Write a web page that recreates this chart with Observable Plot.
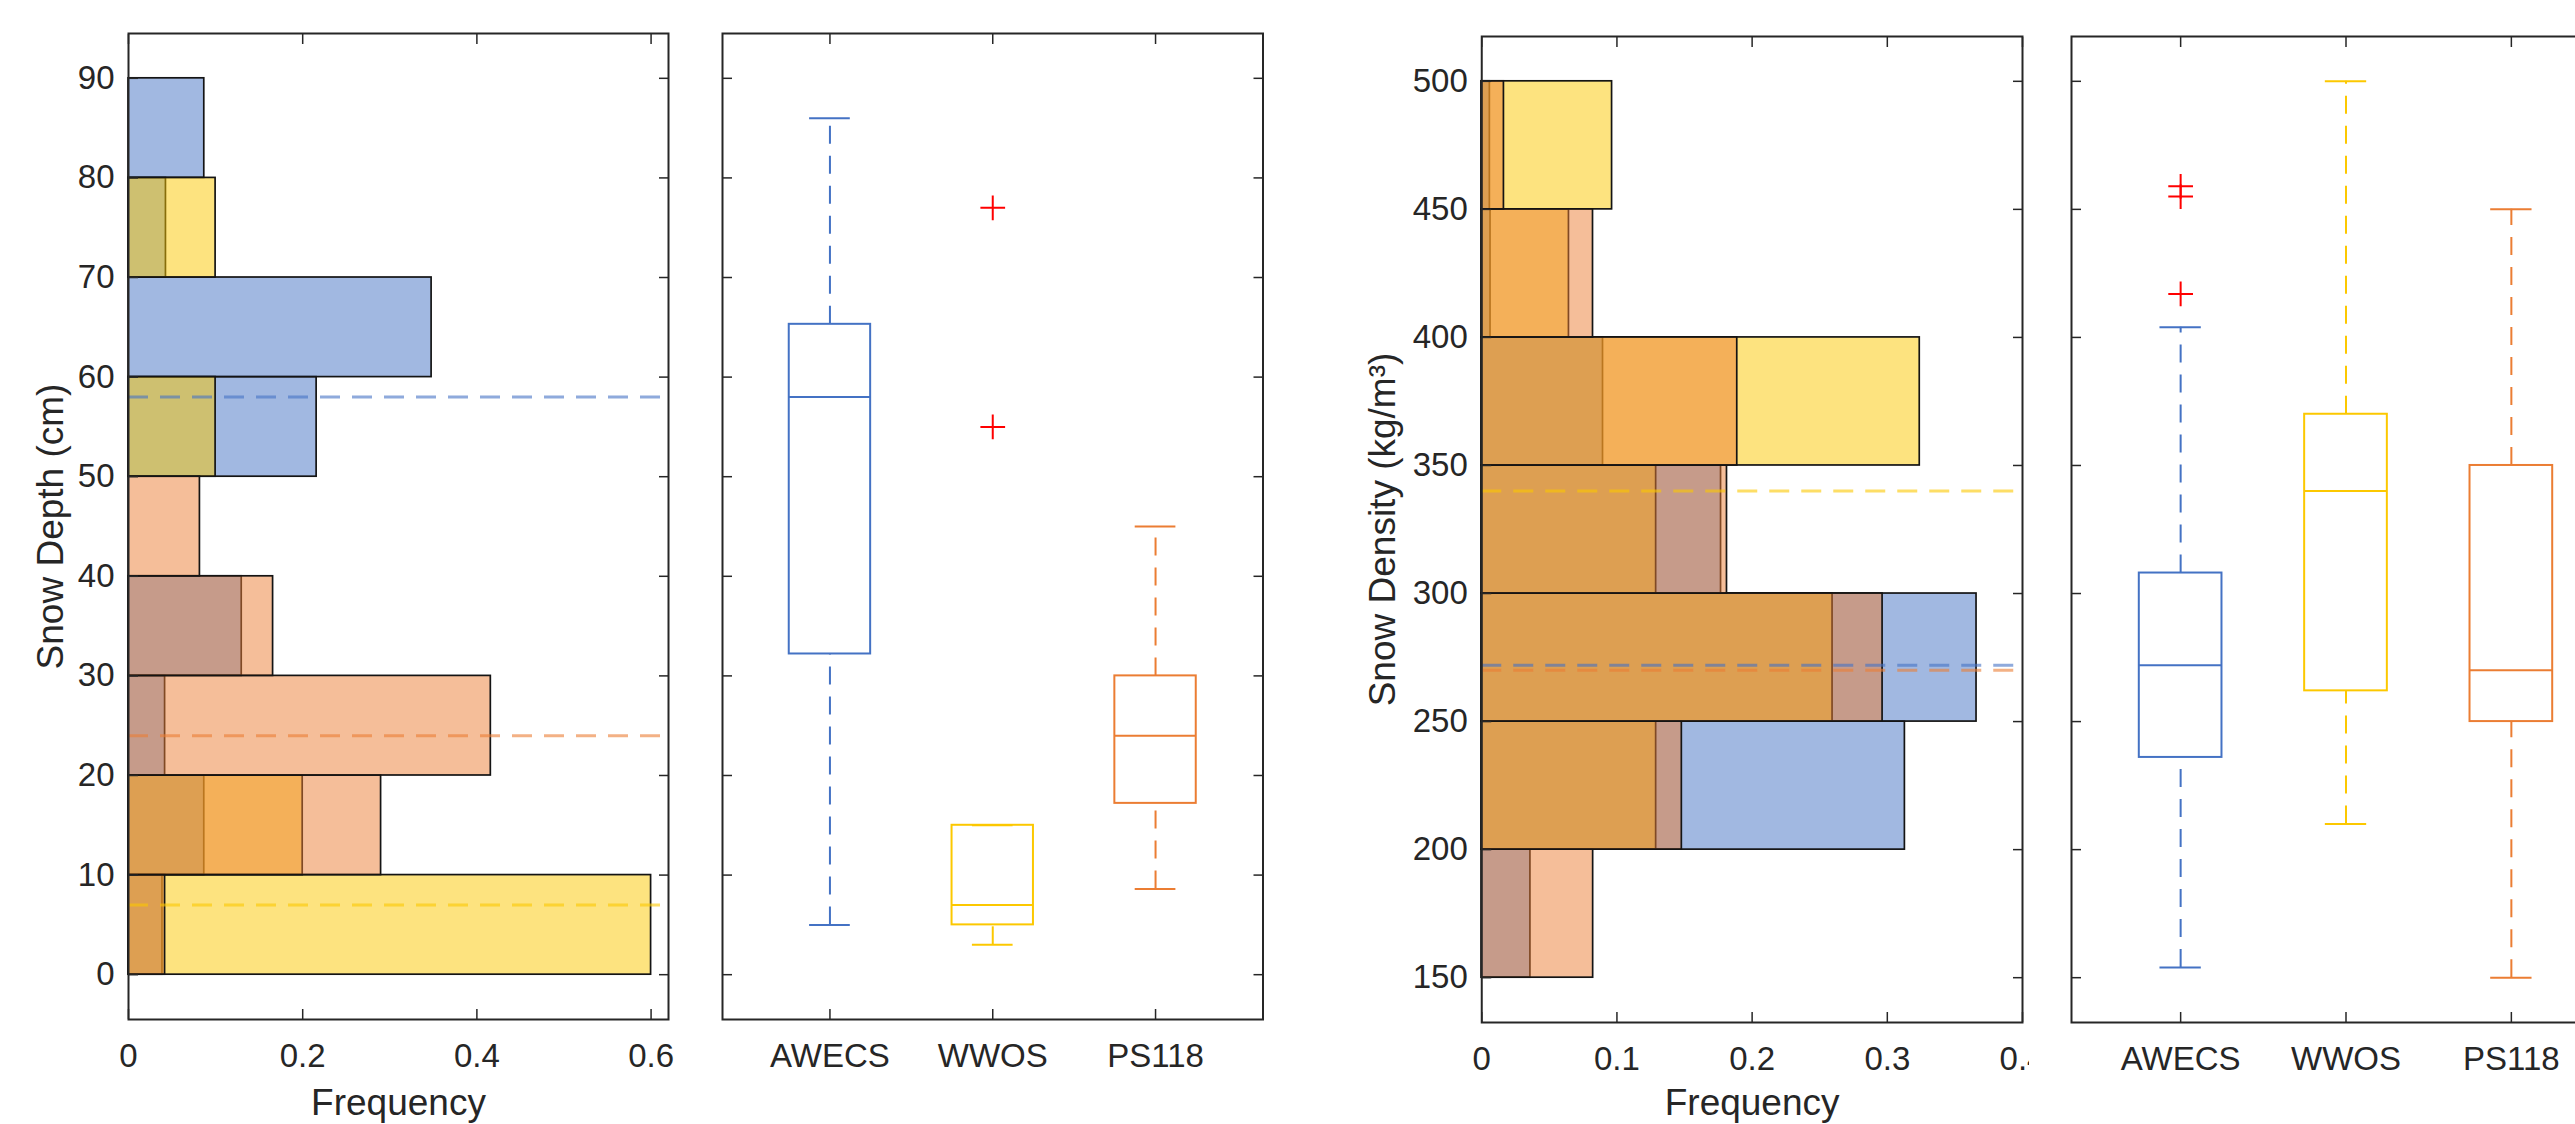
<!DOCTYPE html>
<html>
<head>
<meta charset="utf-8">
<script src="https://cdn.jsdelivr.net/npm/d3@7"></script>
<script src="https://cdn.jsdelivr.net/npm/@observablehq/plot@0.6"></script>
<style>
  html, body { margin: 0; padding: 0; background: #ffffff; overflow: hidden; }
  #fig { position: relative; width: 2575px; height: 1124px; overflow: hidden; background: #ffffff; }
  .panel { position: absolute; top: 0; }
  .panel svg { max-width: none; display: block; }
</style>
</head>
<body>
<div id="fig"></div>
<script>
// ---------------- data ----------------
const series = ["AWECS", "WWOS", "PS118"];
const seriesColors = ["#4472C4", "#FCC800", "#EB7D33"];

// Snow depth histograms (bins of 10 cm), frequency per bin
const depthBinStart = [0, 10, 20, 30, 40, 50, 60, 70, 80];
const depthBinWidth = 10;
const depthFreqAWECS = [0.039, 0.087, 0.042, 0.13, 0, 0.216, 0.348, 0.043, 0.087];
const depthFreqWWOS  = [0.6, 0.2, 0, 0, 0, 0.1, 0, 0.1, 0];
const depthFreqPS118 = [0.042, 0.29, 0.416, 0.166, 0.082, 0, 0, 0, 0];

// Snow density histograms (bins of 50 kg/m3)
const densityBinStart = [150, 200, 250, 300, 350, 400, 450];
const densityBinWidth = 50;
const densityFreqAWECS = [0.036, 0.313, 0.366, 0.177, 0.0897, 0.0065, 0.006];
const densityFreqWWOS  = [0, 0.129, 0.2595, 0.129, 0.324, 0.0645, 0.0964];
const densityFreqPS118 = [0.0824, 0.148, 0.2965, 0.1814, 0.189, 0.0823, 0.0164];

// Box plot statistics (order: AWECS, WWOS, PS118)
const depthLower    = [5, 3, 8.6];
const depthQ1       = [32.2, 5, 17.2];
const depthMedian   = [58, 7, 24];
const depthQ3       = [65.3, 15, 30];
const depthUpper    = [86, 15, 45];
const depthOutliers = [[], [55, 77], []];

const densityLower    = [154, 210, 150];
const densityQ1       = [236, 262, 250];
const densityMedian   = [272, 340, 270];
const densityQ3       = [308, 370, 350];
const densityUpper    = [404, 500, 450];
const densityOutliers = [[417, 455, 459], [], []];

// Ticks and labels
const depthTicks = [0, 10, 20, 30, 40, 50, 60, 70, 80, 90];
const depthFreqTicks = [0, 0.2, 0.4, 0.6];
const densityTicks = [150, 200, 250, 300, 350, 400, 450, 500];
const densityFreqTicks = [0, 0.1, 0.2, 0.3, 0.4];
const categoryTicks = [1, 2, 3];
const depthLabel = "Snow Depth (cm)";
const densityLabel = "Snow Density (kg/m³)";
const freqLabel = "Frequency";

// ---------------- helpers ----------------
const INK = "#262626";
const FONT = "'Liberation Sans', Arial, Helvetica, sans-serif";
const TICK_FS = 33;
const LABEL_FS = 37;

function tickMarks(xTicks, yTicks) {
  const st = {stroke: INK, strokeWidth: 1.5, fill: "none", label: null};
  return [
    Plot.axisY(yTicks, {anchor: "left", tickSize: 10, dx: 10, ...st}),
    Plot.axisY(yTicks, {anchor: "right", tickSize: 10, dx: -10, ...st}),
    Plot.axisX(xTicks, {anchor: "bottom", tickSize: 10, dy: -10, ...st}),
    Plot.axisX(xTicks, {anchor: "top", tickSize: 10, dy: 10, ...st})
  ];
}

function mount(node, left, width) {
  const div = document.createElement("div");
  div.className = "panel";
  div.style.left = left + "px";
  div.style.width = width + "px";
  div.appendChild(node);
  document.getElementById("fig").appendChild(div);
}

function histPanel(o) {
  const marks = [];
  o.freqs.forEach((f, s) => {
    const rows = o.binStart.map((b, i) => ({y1: b, y2: b + o.binWidth, f: f[i]})).filter(d => d.f > 0);
    marks.push(Plot.rect(rows, {
      x1: () => 0, x2: "f", y1: "y1", y2: "y2",
      fill: seriesColors[s], fillOpacity: 0.5,
      stroke: "#141414", strokeWidth: 1.7
    }));
  });
  o.medians.forEach((m, s) => {
    marks.push(Plot.ruleY([m], {stroke: seriesColors[s], strokeOpacity: 0.6, strokeWidth: 3, strokeDasharray: "20,12"}));
  });
  marks.push(...tickMarks(o.xTicks, o.yTicks));
  marks.push(
    Plot.axisY(o.yTicks, {anchor: "left", tickSize: 0, tickPadding: 14, fontSize: TICK_FS, fill: INK, label: null,
      tickFormat: d => `${d}`}),
    Plot.axisX(o.xTicks, {anchor: "bottom", tickSize: 0, tickPadding: 24, fontSize: TICK_FS, fill: INK, label: null,
      tickFormat: d => `${d}`}),
    Plot.frame({stroke: INK, strokeWidth: 2}),
    Plot.text([o.yLabel], {frameAnchor: "left", dx: o.labelDx, rotate: -90, textAnchor: "middle", lineAnchor: "middle",
      fontSize: LABEL_FS, fill: INK}),
    Plot.text([freqLabel], {frameAnchor: "bottom", dy: o.freqDy, textAnchor: "middle", lineAnchor: "middle",
      fontSize: LABEL_FS, fill: INK})
  );
  return Plot.plot({
    width: o.width, height: 1124,
    marginLeft: o.ml, marginRight: o.mr, marginTop: o.mt, marginBottom: o.mb,
    x: {domain: o.xDomain, axis: null},
    y: {domain: o.yDomain, axis: null},
    style: {fontFamily: FONT, color: INK, background: "transparent"},
    marks
  });
}

function boxPanel(o) {
  const rows = series.map((name, i) => ({
    i: i + 1, lo: o.lower[i], q1: o.q1[i], med: o.median[i], q3: o.q3[i], hi: o.upper[i], color: seriesColors[i]
  }));
  const out = o.outliers.flatMap((arr, i) => arr.map(v => ({i: i + 1, v})));
  const marks = [
    ...tickMarks(categoryTicks, o.yTicks),
    Plot.ruleX(rows, {x: "i", y1: "q3", y2: "hi", stroke: "color", strokeWidth: 2, strokeDasharray: "18,12"}),
    Plot.ruleX(rows, {x: "i", y1: "lo", y2: "q1", stroke: "color", strokeWidth: 2, strokeDasharray: "18,12"}),
    Plot.ruleY(rows, {y: "hi", x1: d => d.i - 0.125, x2: d => d.i + 0.125, stroke: "color", strokeWidth: 2}),
    Plot.ruleY(rows, {y: "lo", x1: d => d.i - 0.125, x2: d => d.i + 0.125, stroke: "color", strokeWidth: 2}),
    Plot.rect(rows, {x1: d => d.i - 0.25, x2: d => d.i + 0.25, y1: "q1", y2: "q3", fill: "none", stroke: "color", strokeWidth: 2}),
    Plot.ruleY(rows, {y: "med", x1: d => d.i - 0.25, x2: d => d.i + 0.25, stroke: "color", strokeWidth: 2}),
    Plot.dot(out, {x: "i", y: "v", symbol: "plus", r: 8, stroke: "#FF0000", strokeWidth: 2}),
    Plot.axisX(categoryTicks, {anchor: "bottom", tickSize: 0, tickPadding: 24, fontSize: TICK_FS, fill: INK, label: null,
      tickFormat: d => series[d - 1]}),
    Plot.frame({stroke: INK, strokeWidth: 2})
  ];
  return Plot.plot({
    width: o.width, height: 1124,
    marginLeft: o.ml, marginRight: o.mr, marginTop: o.mt, marginBottom: o.mb,
    x: {domain: [0.34, 3.66], axis: null},
    y: {domain: o.yDomain, axis: null},
    color: {type: "identity"},
    style: {fontFamily: FONT, color: INK, background: "transparent"},
    marks
  });
}

// ---------------- panels ----------------
mount(histPanel({
  binStart: depthBinStart, binWidth: depthBinWidth,
  freqs: [depthFreqAWECS, depthFreqWWOS, depthFreqPS118],
  medians: depthMedian,
  xDomain: [0, 0.62], yDomain: [-4.5, 94.5],
  xTicks: depthFreqTicks, yTicks: depthTicks,
  yLabel: depthLabel, labelDx: -77, freqDy: 84,
  width: 700, ml: 128, mr: 32, mt: 33, mb: 105
}), 0, 700);

mount(boxPanel({
  lower: depthLower, q1: depthQ1, median: depthMedian, q3: depthQ3, upper: depthUpper, outliers: depthOutliers,
  yDomain: [-4.5, 94.5], yTicks: depthTicks,
  width: 600, ml: 22, mr: 37.5, mt: 33, mb: 105
}), 700, 600);

mount(histPanel({
  binStart: densityBinStart, binWidth: densityBinWidth,
  freqs: [densityFreqAWECS, densityFreqWWOS, densityFreqPS118],
  medians: densityMedian,
  xDomain: [0, 0.4], yDomain: [132.5, 517.5],
  xTicks: densityFreqTicks, yTicks: densityTicks,
  yLabel: densityLabel, labelDx: -99, freqDy: 81,
  width: 679, ml: 131.25, mr: 7, mt: 36, mb: 102
}), 1350, 679);

mount(boxPanel({
  lower: densityLower, q1: densityQ1, median: densityMedian, q3: densityQ3, upper: densityUpper, outliers: densityOutliers,
  yDomain: [132.5, 517.5], yTicks: densityTicks,
  width: 600, ml: 31, mr: 20, mt: 36, mb: 102
}), 2040, 600);
</script>
</body>
</html>
